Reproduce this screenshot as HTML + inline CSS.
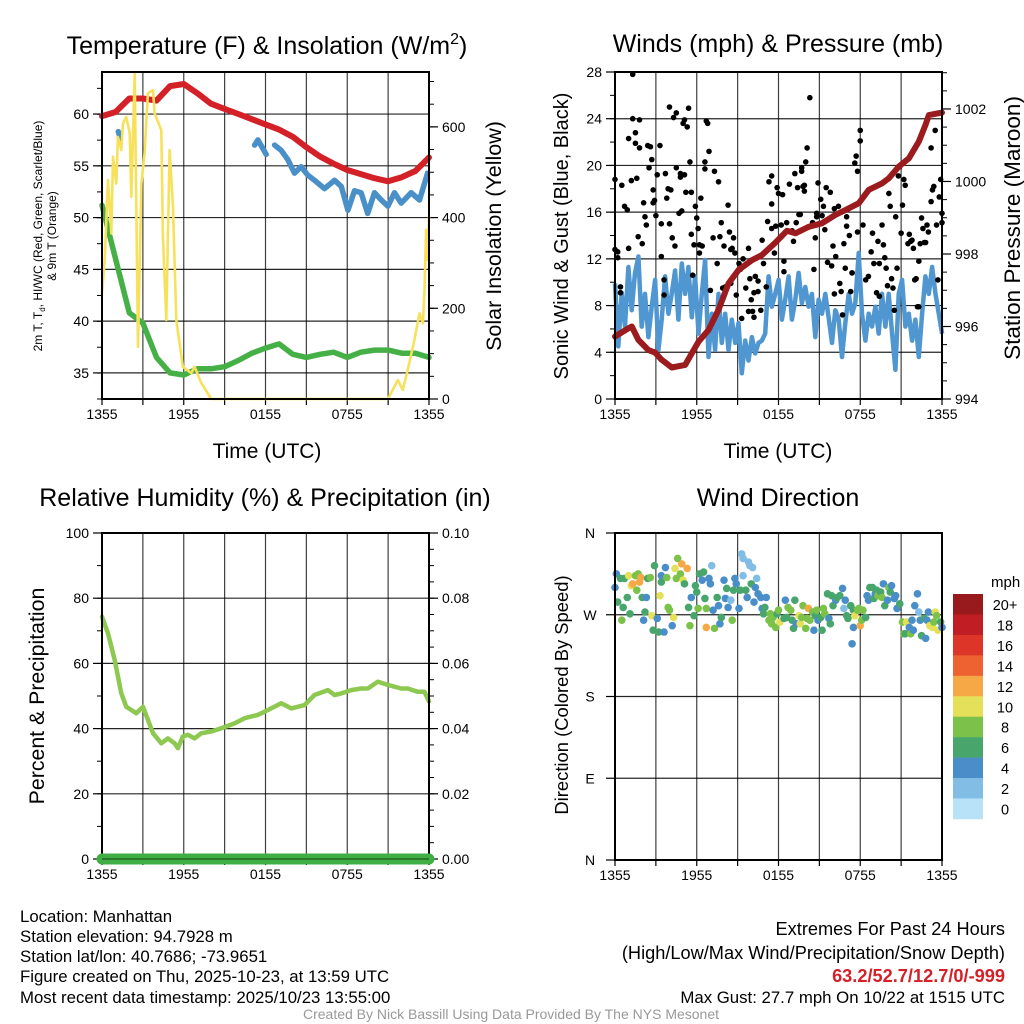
<!DOCTYPE html>
<html><head><meta charset="utf-8">
<style>
html,body{margin:0;padding:0;background:#fff;}
svg{display:block;font-family:"Liberation Sans",Arial,sans-serif;}
</style></head>
<body>
<svg id="chart" xmlns="http://www.w3.org/2000/svg" width="1024" height="1024" viewBox="0 0 1024 1024">
<rect x="0" y="0" width="1024" height="1024" fill="#fff"/>
<g id="layer"></g>
<text x="267" y="54" font-size="25" text-anchor="middle">Temperature (F) &amp; Insolation (W/m<tspan font-size="16" dy="-10">2</tspan><tspan dy="10">)</tspan></text>
<text x="778" y="52" font-size="25" text-anchor="middle">Winds (mph) &amp; Pressure (mb)</text>
<text x="265" y="506" font-size="25" text-anchor="middle">Relative Humidity (%) &amp; Precipitation (in)</text>
<text x="778" y="506" font-size="25" text-anchor="middle">Wind Direction</text>
<text x="267" y="458" font-size="21" text-anchor="middle">Time (UTC)</text>
<text x="778" y="458" font-size="21" text-anchor="middle">Time (UTC)</text>
<text transform="translate(42,236) rotate(-90)" font-size="12" text-anchor="middle">2m T, T<tspan font-size="8" dy="3">d</tspan><tspan dy="-3">, HI/WC (Red, Green, Scarlet/Blue)</tspan></text>
<text transform="translate(56,236) rotate(-90)" font-size="12" text-anchor="middle">&amp; 9m T (Orange)</text>
<text transform="translate(501,236) rotate(-90)" font-size="21.5" text-anchor="middle">Solar Insolation (Yellow)</text>
<text transform="translate(568,236) rotate(-90)" font-size="20" text-anchor="middle">Sonic Wind &amp; Gust (Blue, Black)</text>
<text transform="translate(1020,228) rotate(-90)" font-size="22.5" text-anchor="middle">Station Pressure (Maroon)</text>
<text transform="translate(44,696) rotate(-90)" font-size="21.3" text-anchor="middle">Percent &amp; Precipitation</text>
<text transform="translate(568,695) rotate(-90)" font-size="18.4" text-anchor="middle">Direction (Colored By Speed)</text>
<text x="991" y="587" font-size="15">mph</text>
<g font-size="16.8">
<text x="20" y="922">Location: Manhattan</text>
<text x="20" y="942">Station elevation: 94.7928 m</text>
<text x="20" y="962">Station lat/lon: 40.7686; -73.9651</text>
<text x="20" y="982">Figure created on Thu, 2025-10-23, at 13:59 UTC</text>
<text x="20" y="1003">Most recent data timestamp: 2025/10/23 13:55:00</text>
</g>
<g text-anchor="end">
<text x="1005" y="935" font-size="18.2">Extremes For Past 24 Hours</text>
<text x="1005" y="959" font-size="18.2">(High/Low/Max Wind/Precipitation/Snow Depth)</text>
<text x="1005" y="982" font-size="18.2" fill="#d42027" font-weight="bold">63.2/52.7/12.7/0/-999</text>
<text x="1005" y="1003" font-size="16.8">Max Gust: 27.7 mph On 10/22 at 1515 UTC</text>
</g>
<text x="511" y="1019" font-size="14" fill="#999" text-anchor="middle">Created By Nick Bassill Using Data Provided By The NYS Mesonet</text>
</svg>
<script>
const xTickLabels = ["1355","1955","0155","0755","1355"];
const tempTickLabels = [35,40,45,50,55,60];
const solarTickLabels = [0,200,400,600];
const windTickLabels = [0,4,8,12,16,20,24,28];
const pressTickLabels = [994,996,998,1000,1002];
const rhTickLabels = [0,20,40,60,80,100];
const precipTickLabels = ["0.00","0.02","0.04","0.06","0.08","0.10"];
const dirTickLabels = ["N","E","S","W","N"];
const speedBinLabels = ["0","2","4","6","8","10","12","14","16","18","20+"];
const speedBinColors = ["#b8e2f7","#82bde6","#4a8ec9","#48a66c","#7cc24a","#e5e05a","#f5a845","#ee6130","#dd3528","#c01d24","#981a1c"];

const redHours = [0,1,2,3,4,5,6,7,8,9,10,11,12,13,14,15,16,17,18,19,20,21,22,23,24];
const redTemps = [59.8,60.2,61.5,61.5,61.3,62.7,62.9,62.0,61.0,60.5,60.0,59.5,59.0,58.5,57.8,56.8,55.9,55.2,54.6,54.2,53.8,53.5,53.9,54.5,55.8];
const greenHours = [0,1,2,3,4,5,6,7,8,9,10,11,12,13,14,15,16,17,18,19,20,21,22,23,24];
const greenTemps = [51.2,46.0,40.8,39.8,36.5,35.0,34.8,35.4,35.4,35.6,36.2,36.9,37.4,37.8,36.8,36.5,36.8,37.0,36.5,37.0,37.2,37.2,36.9,36.9,36.5];
const blueHours = [1.2,1.35,null,11.2,11.44,12.05,null,12.67,13.15,13.64,14.13,14.62,15.1,15.6,16.33,17.07,17.56,18.05,18.53,19.02,19.5,20,20.5,20.98,21.47,21.96,22.69,23.3,23.67,23.9];
const blueTemps = [58.3,57.6,null,57.0,57.5,56.1,null,57.0,56.5,55.6,54.3,54.9,54.1,53.6,52.8,53.6,53.0,50.7,52.6,52.4,50.4,52.4,51.7,51.1,52.4,51.4,52.4,51.7,53.3,54.3];
const solarHours = [0,0.2,0.44,0.68,0.81,1.05,1.17,1.42,1.54,1.78,2.03,2.15,2.4,2.64,2.89,3.13,3.37,3.74,3.86,4.35,4.47,4.72,4.96,5.21,5.45,5.94,6.55,6.8,7.29,8.02,20.98,21.71,22.08,22.44,22.93,23.3,23.55,23.67,23.79,23.91,24];
const solarValues = [233,306,483,365,534,475,578,549,608,622,586,446,718,115,475,542,674,681,630,593,358,174,549,424,174,71,57,71,35,0,0,42,20,64,130,189,167,240,373,306,402];

const windStepHours = 0.245;
const windValues = [9.9,4.5,9.1,6.2,11.3,7.6,10.8,12.2,6.2,9,5.3,7.9,10.2,4.2,6.8,10.5,7.3,9,11,6.8,11.6,9,11.3,7,10.5,5.6,9,11.9,3.6,7.3,4.2,9,4.8,7.3,4.2,6.8,4.8,6.5,2.2,5,3.3,5.3,3.9,4.8,5,5.6,10.5,7.9,9,10.2,6.8,8.5,10.5,6.8,8.5,10.8,8.2,9.6,7.9,9,5.3,8.5,7.3,9,7,4.8,7.6,6.8,3.6,6.5,9,7.3,8.2,12.5,7.3,5,7.3,6.2,7.9,5.6,9,6.2,9,5.6,2.5,9,10.2,6.2,7.3,5,6.8,3.6,7.3,10.5,9,11.3,9,7.3,5.6];
const gustHours = [0,0,0.2,0.2,0.4,0.4,0.5,0.7,0.9,1,1,1.2,1.3,1.3,1.5,1.5,1.6,1.7,1.8,1.8,2,2.1,2.2,2.3,2.4,2.5,2.6,2.7,2.8,2.8,2.9,3,3.1,3.3,3.4,3.4,3.6,3.6,3.7,3.8,3.9,4,4,4.1,4.2,4.3,4.4,4.5,4.5,4.7,4.8,4.8,4.9,5,5.1,5.1,5.2,5.3,5.4,5.5,5.6,5.6,5.7,5.8,5.9,6,6.1,6.2,6.2,6.3,6.4,6.6,6.7,6.8,6.6,6.9,7,7.2,7.3,7.5,7.6,7.7,7.8,7.9,8,8.1,8.3,8.4,8.5,8.5,8.6,8.7,8.8,8.9,9.1,9.2,9.3,9.4,9.6,9.8,9.8,9.9,10,10.1,10.2,10.2,10.3,10.5,10.5,10.7,10.8,10.9,11.1,11.2,11.3,11.5,11.5,11.5,11.7,11.8,11.9,12,12.2,12.3,12.4,12.4,12.6,12.8,13,13.1,13.2,13.3,13.4,13.5,13.6,13.7,13.7,13.8,13.9,13.9,14,14.1,14.3,14.5,14.6,14.7,14.8,14.8,14.9,15.1,15.2,15.3,15.4,15.5,15.6,15.8,15.9,16,16.1,16.1,16.2,16.4,16.5,16.6,16.7,16.8,16.9,17,17,17.2,17.3,17.4,17.4,17.6,17.7,17.8,17.8,18,18,18.2,18.4,18.6,18.8,18.9,19,19.2,19.3,19.4,19.4,19.6,19.7,19.8,19.9,20,20.1,20.2,20.3,20.4,20.5,20.6,20.7,20.8,20.9,21,21.1,21.2,21.3,21.5,21.6,21.7,21.8,21.9,22,22.1,22.2,22.3,22.3,22.4,22.5,22.6,22.7,22.8,22.9,23,23.2,23.2,23.3,23.4,23.5,23.6,23.7,23.8,23.9,24,24];
const gustMph = [18.8,12.8,12.6,12.1,9.6,9.1,18.3,16.5,16.2,12.9,22.3,18.7,27.8,24,22.8,21.9,18.9,13.9,23.9,21.5,13.3,16.8,15.6,14.9,21.7,19.8,21.6,20.5,17.9,16.8,17,15.7,19.2,21.7,15,12.2,10.2,8.9,19.3,17.2,18,15,25,17.9,13.8,24.1,13.1,24.5,19.8,15.9,19.3,19,16.1,23.6,19.2,23.9,17.7,23.3,24.9,20.3,17.7,14.1,10.6,13.2,16.5,15.5,14.6,12.5,13.2,17.2,13.1,20.3,23.8,23.6,19.7,21.2,9.3,13.8,19.5,11.6,18.6,13.9,15.1,9.5,13.1,9.6,16.6,14.3,12.8,9.9,12.9,13.8,12.5,8.9,11.6,11.1,6.9,12,9.5,12.9,7.5,10.3,8.5,7.5,7,9.1,10.5,10.1,9.2,7.6,13.6,11.6,9.6,15.2,18.6,16.7,19.1,14.6,12.5,14.8,18.1,17.6,14.9,17.5,10.9,11.8,15.1,18.4,14.4,13.5,19.3,15.1,18.1,15.8,15.8,19.8,19.5,18.2,17.8,18.3,20.3,21.5,25.8,15.1,11.1,13.8,15.9,15.6,18.5,17.1,15.7,16.5,14.5,18.1,11.7,17.7,11.4,13.1,9,16.3,12.2,16.5,9.9,9.2,7.2,13.3,11.2,15.6,14.8,14,9.2,10.8,10.8,20.2,20.8,19.5,14.3,22.1,23,14.9,10.2,10.5,12.6,14.2,11.6,9.1,13.5,8.8,11.6,14.9,13.2,12.1,11.2,9.7,17.6,16.5,10.3,9.5,7.6,15.6,11.2,19.1,19.9,14.2,16.6,18.8,18.3,13.3,14.1,13.5,13.6,12.9,10.2,10.3,7.9,11.8,7.9,13.3,15.5,14.6,13.4,13.4,14.9,14.3,21.5,16.9,17.9,18.2,23,14.9,10.2,17.3,18.8,15.1,15.9];
const pressHours = [0,0.98,1.23,1.72,2.45,2.94,3.43,4.17,5.15,5.64,6.13,6.86,7.6,8.33,9.07,10.05,10.78,11.76,12.62,13.24,14.22,15.2,16.18,16.91,17.89,18.63,19.61,20.1,20.83,21.57,22.3,22.79,23.04,24];
const pressValues = [995.72,995.95,996.0,995.63,995.35,995.28,995.08,994.87,994.94,995.26,995.58,995.9,996.46,997.19,997.56,997.83,997.97,998.31,998.64,998.57,998.75,998.85,999.08,999.21,999.4,999.77,999.95,1000.09,1000.41,1000.64,1001.1,1001.56,1001.83,1001.9];

const rhHours = [0,0.44,0.93,1.42,1.78,2.15,2.52,3.01,3.37,3.74,4.35,4.84,5.33,5.57,5.94,6.31,6.8,7.29,8.02,8.75,9.73,10.46,11.44,12.18,13.15,13.89,14.87,15.6,16.58,17.07,17.56,18.29,19.02,19.51,20.24,20.98,21.96,22.44,23.18,23.67,24];
const rhValues = [74.3,69.2,61,50.8,46.7,45.7,44.7,46.7,42.7,38.6,35.5,37,35.5,34,37.6,38.1,37,38.6,39.1,40.1,41.6,43.2,44.2,45.7,47.8,46.2,47.2,50.3,51.8,50.3,50.8,51.8,52.3,52.3,54.4,53.4,52.3,52.3,51.3,51.3,48.3];
const precipHours = [0,24];
const precipValues = [0,0];

const dirHours = [0,0.1,0.2,0.4,0.5,0.6,0.7,0.9,1.0,1.1,1.2,1.3,1.5,1.6,1.7,1.8,1.9,2.0,2.1,2.2,2.3,2.4,2.6,2.7,2.8,2.9,3.1,3.2,3.3,3.4,3.4,3.6,3.7,3.8,3.9,4.0,4.2,4.3,4.4,4.5,4.6,4.8,4.9,5.0,5.1,5.3,5.4,5.5,5.6,5.8,5.9,6.0,6.1,6.2,6.4,6.5,6.6,6.7,6.7,6.9,7.0,7.1,7.2,7.3,7.5,7.6,7.7,7.8,8.0,8.1,8.2,8.3,8.5,8.6,8.7,8.8,8.9,9.1,9.2,9.3,9.4,9.4,9.6,9.7,9.8,9.9,10.0,10.1,10.2,10.3,10.4,10.5,10.7,10.8,10.9,11.0,11.1,11.3,11.4,11.5,11.6,11.8,11.9,12.0,12.1,12.4,12.5,12.6,12.7,12.9,13.0,13.1,13.2,13.3,13.5,13.6,13.7,13.8,14.0,14.1,14.2,14.3,14.5,14.6,14.7,14.8,14.9,15.1,15.2,15.3,15.4,15.6,15.7,15.8,15.9,16.0,16.2,16.3,16.5,16.7,16.8,16.9,17.0,17.1,17.3,17.4,17.5,17.5,17.6,17.8,17.9,18.0,18.1,18.2,18.4,18.5,18.6,18.7,18.9,19.0,19.1,19.2,19.3,19.5,19.6,19.7,19.8,20.0,20.1,20.2,20.3,20.5,20.6,20.7,20.9,21.1,21.2,21.3,21.4,21.6,21.7,21.8,21.9,22.0,22.2,22.3,22.4,22.5,22.7,22.8,22.9,23.0,23.1,23.3,23.4,23.5,23.6,23.7,23.9,24.0];
const dirDegrees = [300,315,284,310,264,278,310,289,313,271,302,304,313,297,315,306,311,289,264,273,289,310,311,269,253,324,266,251,291,306,313,251,322,311,278,275,258,267,321,310,332,315,326,308,304,321,278,258,289,269,302,295,277,315,308,317,288,256,277,310,304,324,275,255,289,280,260,267,308,288,299,278,286,264,297,310,304,277,297,337,332,313,297,289,328,324,304,322,284,300,310,293,289,277,271,278,289,264,271,260,267,256,271,275,262,266,286,267,278,275,264,255,286,260,269,260,267,280,255,266,277,264,273,253,269,275,264,267,253,277,271,293,266,260,291,280,286,289,291,299,277,286,269,266,280,238,256,275,269,275,277,258,264,275,267,291,286,300,300,288,293,297,291,295,289,304,280,286,300,295,302,288,291,277,282,262,249,249,262,256,249,264,253,280,293,273,264,247,266,244,264,273,258,256,262,273,269,253,262,256];
const dirSpeeds = [4,4,6,6,8,6,6,6,10,6,10,12,8,8,8,12,12,6,4,6,4,6,8,10,6,6,4,6,10,6,4,4,4,8,8,8,4,10,10,8,8,8,12,10,6,12,6,8,4,6,6,6,8,6,4,6,6,12,8,4,4,2,4,8,6,4,4,6,4,4,6,4,2,8,6,4,4,4,6,2,2,2,6,4,2,2,6,2,4,4,2,4,4,4,6,6,4,8,8,8,8,8,6,8,10,6,4,6,8,8,6,6,6,4,10,10,8,8,8,8,12,8,8,4,6,8,4,6,6,8,8,6,4,6,6,6,4,6,6,4,2,4,6,6,6,4,4,6,10,8,8,12,8,8,6,4,4,6,6,6,4,6,8,6,8,4,6,4,8,6,4,4,4,4,6,8,8,6,10,4,8,4,4,4,4,2,4,6,6,4,4,4,10,10,8,10,8,10,6,4];

const NS = "http://www.w3.org/2000/svg";
const layer = document.getElementById("layer");
function mk(tag, attrs, parent) {
  const e = document.createElementNS(NS, tag);
  for (const k in attrs) e.setAttribute(k, attrs[k]);
  (parent || layer).appendChild(e);
  return e;
}
function lin(d0, d1, r0, r1) { return v => r0 + (v - d0) * (r1 - r0) / (d1 - d0); }
function pathFrom(xs, ys, sx, sy) {
  let d = "", pen = false;
  for (let i = 0; i < xs.length; i++) {
    if (xs[i] === null || ys[i] === null) { pen = false; continue; }
    d += (pen ? "L" : "M") + sx(xs[i]).toFixed(1) + "," + sy(ys[i]).toFixed(1);
    pen = true;
  }
  return d;
}

const panels = [
  {key:"temperature", x0:102, x1:429, y0:72, y1:399},
  {key:"winds", x0:615, x1:942, y0:72, y1:399},
  {key:"humidity", x0:102, x1:429, y0:533, y1:859},
  {key:"direction", x0:615, x1:942, y0:533, y1:860}
];

function drawFrame(p, hLines) {
  const g = mk("g", {});
  
  
  const sx = lin(0, 24, p.x0, p.x1);
  for (let h = 3; h < 24; h += 3) {
    const ln = mk("line", {x1:sx(h), x2:sx(h), y1:p.y0, y2:p.y1, stroke:"#000", "stroke-width":1.2, opacity:0.75}, g);
    
    
  }
  hLines.forEach(y => {
    const ln = mk("line", {x1:p.x0, x2:p.x1, y1:y, y2:y, stroke:"#000", "stroke-width":1.2, opacity:0.85}, g);
    
    
  });
  for (let h = 0; h <= 24; h += 3) {
    const t = mk("line", {x1:sx(h), x2:sx(h), y1:p.y1, y2:p.y1 + 6, stroke:"#000", "stroke-width":1.2}, g);
    
    
  }
  xTickLabels.forEach((lab, i) => {
    const t = mk("text", {x:sx(i * 6), y:p.y1 + 20, "font-size":14, "text-anchor":"middle"}, g);
    t.textContent = lab;
    
    
  });
  return {g, sx};
}
function drawBorder(p) {
  const r = mk("rect", {x:p.x0, y:p.y0, width:p.x1 - p.x0, height:p.y1 - p.y0, fill:"none", stroke:"#000", "stroke-width":2});
  
  
}
function yTicks(p, g, sy, majors, labels, minorStep, side) {
  const x = side === "left" ? p.x0 : p.x1;
  const dir = side === "left" ? -1 : 1;
  const lo = Math.min(sy.d0, sy.d1), hi = Math.max(sy.d0, sy.d1);
  for (let v = lo; v <= hi + 1e-9; v += minorStep) {
    const t = mk("line", {x1:x, x2:x + dir * 5, y1:sy(v), y2:sy(v), stroke:"#000", "stroke-width":1}, g);
    
    
  }
  majors.forEach((v, i) => {
    const t = mk("line", {x1:x, x2:x + dir * 9, y1:sy(v), y2:sy(v), stroke:"#000", "stroke-width":1.2}, g);
    
    
    const tx = mk("text", {x:x + dir * 13, y:sy(v) + 5, "font-size":14, "text-anchor": side === "left" ? "end" : "start"}, g);
    tx.textContent = labels[i];
    
    
  });
}
function scaleY(d0, d1, r0, r1) { const f = lin(d0, d1, r0, r1); f.d0 = d0; f.d1 = d1; return f; }

// ---------- Panel 1 ----------
(function(){
  const p = panels[0];
  const sT = scaleY(32.48, 64.06, p.y1, p.y0);
  const sS = scaleY(0, 721, p.y1, p.y0);
  const {g, sx} = drawFrame(p, tempTickLabels.map(v => sT(v)));
  yTicks(p, g, sT, tempTickLabels, tempTickLabels, 2.5, "left");
  yTicks(p, g, sS, solarTickLabels, solarTickLabels, 50, "right");
  const series = [
    {n:"dewpoint-line", xs:greenHours, ys:greenTemps, s:sT, c:"#45b046", w:5.5},
    {n:"temperature-line", xs:redHours, ys:redTemps, s:sT, c:"#d42027", w:6},
    {n:"heat-index-wind-chill-line", xs:blueHours, ys:blueTemps, s:sT, c:"#4a90c8", w:5.5},
    {n:"solar-insolation-line", xs:solarHours, ys:solarValues, s:sS, c:"#f7e15a", w:2.6}
  ];
  series.forEach(se => {
    const path = mk("path", {d:pathFrom(se.xs, se.ys, sx, se.s), fill:"none", stroke:se.c, "stroke-width":se.w, "stroke-linejoin":"round", "stroke-linecap":"round"});
    
    
  });
  drawBorder(p);
})();

// ---------- Panel 2 ----------
(function(){
  const p = panels[1];
  const sW = scaleY(0, 28, p.y1, p.y0);
  const sP = scaleY(994, 1003.02, p.y1, p.y0);
  const {g, sx} = drawFrame(p, windTickLabels.map(v => sW(v)));
  yTicks(p, g, sW, windTickLabels, windTickLabels, 2, "left");
  yTicks(p, g, sP, pressTickLabels, pressTickLabels, 0.5, "right");
  const wh = windValues.map((v, i) => i * windStepHours);
  const wp = mk("path", {d:pathFrom(wh, windValues, sx, sW), fill:"none", stroke:"#5096d0", "stroke-width":4.5, "stroke-linejoin":"round"});
  
  
  const gg = mk("g", {});
  
  
  gustHours.forEach((h, i) => {
    const c = mk("circle", {cx:sx(h), cy:sW(gustMph[i]), r:2.8, fill:"#000"}, gg);
    
    
  });
  const pp = mk("path", {d:pathFrom(pressHours, pressValues, sx, sP), fill:"none", stroke:"#9b1b1e", "stroke-width":6, "stroke-linejoin":"round", "stroke-linecap":"round"});
  
  
  drawBorder(p);
})();

// ---------- Panel 3 ----------
(function(){
  const p = panels[2];
  const sR = scaleY(0, 100, p.y1, p.y0);
  const sPr = scaleY(0, 0.1, p.y1, p.y0);
  const {g, sx} = drawFrame(p, rhTickLabels.map(v => sR(v)));
  yTicks(p, g, sR, rhTickLabels, rhTickLabels, 10, "left");
  yTicks(p, g, sPr, precipTickLabels.map(Number), precipTickLabels, 0.005, "right");
  const rp = mk("path", {d:pathFrom(rhHours, rhValues, sx, sR), fill:"none", stroke:"#8dc851", "stroke-width":4.5, "stroke-linejoin":"round", "stroke-linecap":"round"});
  
  
  drawBorder(p);
  const pr = mk("path", {d:pathFrom(precipHours, precipValues, sx, sPr), fill:"none", stroke:"#3fae44", "stroke-width":11, "stroke-linecap":"round"});
  
  
  const pr2 = mk("line", {x1:p.x0, x2:p.x1, y1:p.y1, y2:p.y1, stroke:"#1a5a1a", "stroke-width":1.2});
  
  
})();

// ---------- Panel 4 ----------
(function(){
  const p = panels[3];
  const sD = scaleY(0, 360, p.y1, p.y0);
  const {g, sx} = drawFrame(p, [0,90,180,270,360].map(v => sD(v)));
  dirTickLabels.forEach((lab, i) => {
    const v = i * 90;
    const t = mk("line", {x1:p.x0, x2:p.x0 - 9, y1:sD(v), y2:sD(v), stroke:"#000", "stroke-width":1.2}, g);
    
    
    const tx = mk("text", {x:590, y:sD(v) + 5, "font-size":14, "text-anchor":"middle"}, g);
    tx.textContent = lab;
    
    
  });
  const dg = mk("g", {});
  
  
  dirHours.forEach((h, i) => {
    const bin = Math.min(10, Math.max(0, Math.floor(dirSpeeds[i] / 2)));
    const c = mk("circle", {cx:sx(h), cy:sD(dirDegrees[i]), r:3.8, fill:speedBinColors[bin]}, dg);
    
    
  });
  drawBorder(p);
  const cb = mk("g", {});
  
  
  const cbTop = 594, cbH = 20.45;
  speedBinLabels.forEach((lab, i) => {
    const idx = speedBinLabels.length - 1 - i;
    const r = mk("rect", {x:953, y:cbTop + i * cbH, width:30, height:cbH + 0.3, fill:speedBinColors[idx]}, cb);
    
    
    const t = mk("text", {x:1005, y:cbTop + i * cbH + 16, "font-size":14.5, "text-anchor":"middle"}, cb);
    t.textContent = speedBinLabels[idx];
    
    
  });
})();
</script>
</body></html>
